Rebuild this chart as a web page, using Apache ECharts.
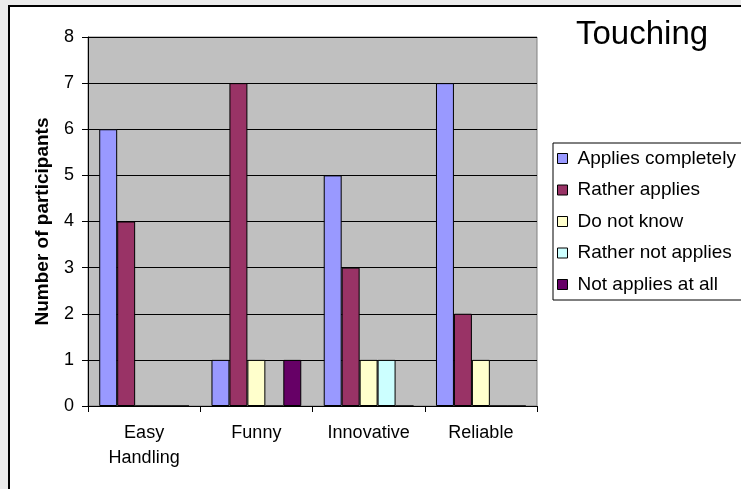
<!DOCTYPE html>
<html>
<head>
<meta charset="utf-8">
<script src="https://cdn.jsdelivr.net/npm/echarts@6/dist/echarts.min.js"></script>
<style>
html,body{margin:0;padding:0;background:#EBEBEB;width:741px;height:489px;overflow:hidden;}
#frame{position:absolute;left:8px;top:5px;width:800px;height:600px;background:#fff;border-left:2px solid #000;border-top:2px solid #000;}
#chart{position:absolute;left:0;top:0;width:741px;height:489px;}
</style>
</head>
<body>
<div id="frame"></div>
<div id="chart"></div>
<script>
const categories = ['Easy\nHandling', 'Funny', 'Innovative', 'Reliable'];
const seriesNames = ['Applies completely', 'Rather applies', 'Do not know', 'Rather not applies', 'Not applies at all'];
const appliesCompletely = [6, 1, 5, 7];
const ratherApplies = [4, 7, 3, 2];
const doNotKnow = [0, 1, 1, 1];
const ratherNotApplies = [0, 0, 1, 0];
const notAppliesAtAll = [0, 1, 0, 0];
const colors = ['#9999FF', '#993366', '#FFFFCC', '#CCFFFF', '#660066'];
const yTicks = [0, 1, 2, 3, 4, 5, 6, 7, 8];

const values = [appliesCompletely, ratherApplies, doNotKnow, ratherNotApplies, notAppliesAtAll];
const font = 'Liberation Sans, Arial, sans-serif';

const chart = echarts.init(document.getElementById('chart'), null, {renderer: 'canvas'});
chart.setOption({
  animation: false,
  backgroundColor: 'transparent',
  title: {
    text: 'Touching',
    left: 576,
    top: 18,
    padding: 0,
    textStyle: {fontFamily: font, fontSize: 33, fontWeight: 'normal', color: '#000'}
  },
  grid: {
    left: 88, right: 204, top: 37, bottom: 83,
    show: true, backgroundColor: '#C0C0C0', borderColor: '#808080', borderWidth: 1
  },
  legend: {
    orient: 'vertical',
    left: 553, top: 143,
    padding: [6, 30, 6, 4],
    itemGap: 12.5,
    itemWidth: 10, itemHeight: 10,
    backgroundColor: '#fff',
    borderColor: '#000', borderWidth: 1, borderRadius: 0,
    icon: 'rect',
    itemStyle: {borderColor: '#000', borderWidth: 1},
    textStyle: {fontFamily: font, fontSize: 19, color: '#000', lineHeight: 19, padding: [0, 0, 0, 5]},
    data: seriesNames
  },
  xAxis: {
    type: 'category',
    data: categories,
    axisLine: {lineStyle: {color: '#000', width: 1}},
    axisTick: {show: true, length: 6, lineStyle: {color: '#000'}},
    axisLabel: {fontFamily: font, fontSize: 18, color: '#000', margin: 15, lineHeight: 25}
  },
  yAxis: {
    type: 'value',
    min: yTicks[0], max: yTicks[yTicks.length - 1], interval: 1,
    name: 'Number of participants',
    nameLocation: 'middle',
    nameGap: 36,
    nameTextStyle: {fontFamily: font, fontSize: 19, fontWeight: 'bold', color: '#000'},
    axisLine: {show: true, lineStyle: {color: '#000', width: 1}},
    axisTick: {show: true, length: 6, lineStyle: {color: '#000'}},
    axisLabel: {fontFamily: font, fontSize: 18, color: '#000', margin: 14},
    splitLine: {show: true, lineStyle: {color: '#000', width: 1}}
  },
  series: seriesNames.map((name, i) => ({
    name: name,
    type: 'bar',
    data: values[i],
    barGap: '0%',
    barCategoryGap: '20%',
    itemStyle: {color: colors[i], borderColor: '#000', borderWidth: 1}
  }))
});
</script>
</body>
</html>
